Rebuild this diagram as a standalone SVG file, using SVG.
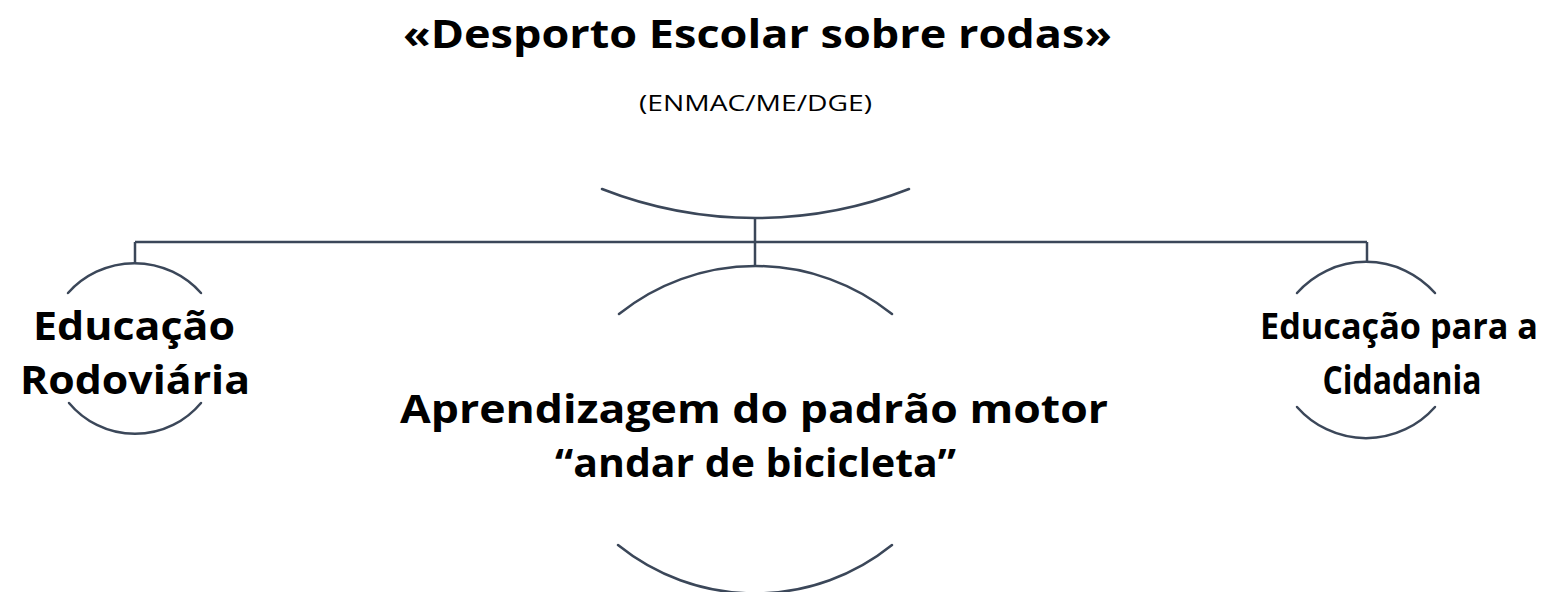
<svg xmlns="http://www.w3.org/2000/svg" width="1552" height="592" viewBox="0 0 1552 592">
<style>
.arc{fill:none;stroke:#3b4759;stroke-width:2.5;stroke-linecap:round}
.ln{fill:none;stroke:#3b4759;stroke-width:2.5}
.b{font-family:"Open Sans","Noto Sans","Liberation Sans",sans-serif;font-weight:bold;fill:#000;text-anchor:middle}
.r{font-family:"Open Sans","Noto Sans","Liberation Sans",sans-serif;fill:#000;text-anchor:middle}
</style>
<rect width="1552" height="592" fill="#fff"/>
<g id="title">
<text class="b" x="757.5" y="48" font-size="39" textLength="709" lengthAdjust="spacingAndGlyphs">«Desporto Escolar sobre rodas»</text>
<text class="r" x="755.5" y="111" font-size="21" textLength="233" lengthAdjust="spacingAndGlyphs">(ENMAC/ME/DGE)</text>
</g>
<g id="connectors">
<path class="ln" d="M755,218 V266"/>
<path class="ln" d="M135,242 H1367"/>
<path class="ln" d="M135,242 V263"/>
<path class="ln" d="M1367,242 V263"/>
</g>
<g id="root">
<path class="arc" d="M602,189 A421,421 0 0 0 909,189"/>
</g>
<g id="node-left">
<path class="arc" d="M68,293 A89,89 0 0 1 201,293"/>
<path class="arc" d="M69,403 A86,86 0 0 0 201,403"/>
<text class="b" x="134" y="340" font-size="40" textLength="202" lengthAdjust="spacingAndGlyphs">Educação</text>
<text class="b" x="135" y="394" font-size="40" textLength="230" lengthAdjust="spacingAndGlyphs">Rodoviária</text>
</g>
<g id="node-center">
<path class="arc" d="M619,314 A218,218 0 0 1 892,314"/>
<path class="arc" d="M618,545 A218,218 0 0 0 892,545"/>
<text class="b" x="754" y="423" font-size="40" textLength="708" lengthAdjust="spacingAndGlyphs">Aprendizagem do padrão motor</text>
<text class="b" x="755.5" y="477" font-size="40" textLength="401" lengthAdjust="spacingAndGlyphs">“andar de bicicleta”</text>
</g>
<g id="node-right">
<path class="arc" d="M1297,293 A92,92 0 0 1 1435,293"/>
<path class="arc" d="M1297,407 A92,92 0 0 0 1435,407"/>
<text class="b" x="1399" y="339" font-size="35" textLength="278" lengthAdjust="spacingAndGlyphs">Educação para a</text>
<text class="b" x="1402" y="394" font-size="40" textLength="159" lengthAdjust="spacingAndGlyphs">Cidadania</text>
</g>
</svg>
